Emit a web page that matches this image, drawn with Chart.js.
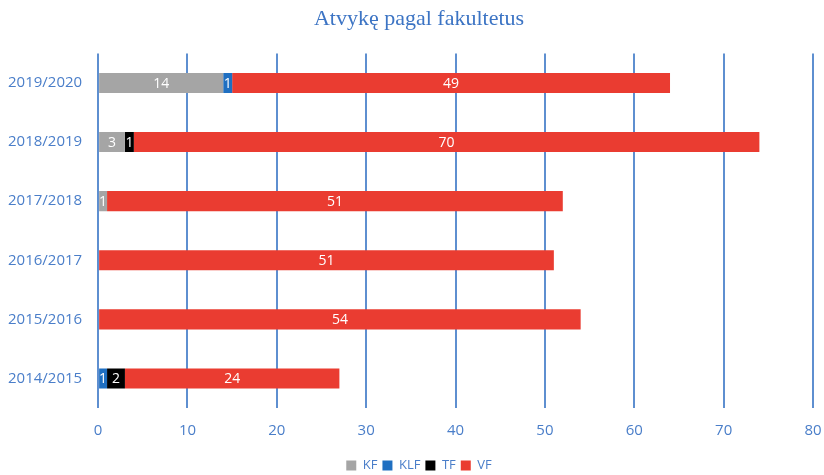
<!DOCTYPE html>
<html>
<head>
<meta charset="utf-8">
<script src="https://cdn.jsdelivr.net/npm/chart.js@4"></script>
<style>
html,body{margin:0;padding:0;background:#fff;}
#wrap{width:824px;height:475px;position:relative;}
</style>
</head>
<body>
<div id="wrap"><canvas id="c" width="824" height="475"></canvas></div>
<script>
const categories = ["2019/2020","2018/2019","2017/2018","2016/2017","2015/2016","2014/2015"];
const KF  = [14, 3, 1, 0, 0, 0];
const KLF = [1, 0, 0, 0, 0, 1];
const TF  = [0, 1, 0, 0, 0, 2];
const VF  = [49, 70, 51, 51, 54, 24];
const xTicks = [0,10,20,30,40,50,60,70,80];

const axisBlue = '#4a7ec9';
const gridBlue = '#5e8fd0';

const labelPlugin = {
  id: 'barLabels',
  afterDatasetsDraw(chart) {
    const ctx = chart.ctx;
    ctx.save();
    ctx.font = '14px "Open Sans", sans-serif';
    ctx.fillStyle = '#ffffff';
    ctx.textAlign = 'center';
    ctx.textBaseline = 'middle';
    chart.data.datasets.forEach((ds, di) => {
      const meta = chart.getDatasetMeta(di);
      meta.data.forEach((bar, i) => {
        const v = ds.data[i];
        if (!v) return;
        const cx = (bar.x + bar.base) / 2;
        ctx.fillText(String(v), cx, bar.y + 1);
      });
    });
    ctx.restore();
  }
};

new Chart(document.getElementById('c'), {
  type: 'bar',
  data: {
    labels: categories,
    datasets: [
      {label:'KF', data: KF, backgroundColor:'#a5a5a5'},
      {label:'KLF', data: KLF, backgroundColor:'#1f6fc1'},
      {label:'TF', data: TF, backgroundColor:'#000000'},
      {label:'VF', data: VF, backgroundColor:'#ea3c31'}
    ]
  },
  options: {
    indexAxis: 'y',
    responsive: false,
    animation: false,
    devicePixelRatio: 1,
    layout: {padding: {left: -8, right: -22, top: 0, bottom: -7}},
    datasets: {bar: {categoryPercentage: 1, barPercentage: 0.34}},
    plugins: {
      title: {
        display: true,
        text: 'Atvykę pagal fakultetus',
        color: '#3c74c4',
        font: {family: '"Liberation Serif", serif', size: 22, weight: 'normal'},
        padding: {top: 6, bottom: 21}
      },
      legend: {
        position: 'bottom',
        labels: {
          boxWidth: 10, boxHeight: 10, color: axisBlue,
          font: {family: '"Open Sans", sans-serif', size: 13},
          padding: 5
        }
      },
      tooltip: {enabled: false}
    },
    scales: {
      x: {
        stacked: true,
        min: 0, max: 80,
        afterBuildTicks(axis) { axis.ticks = xTicks.map(v => ({value: v})); },
        afterFit(scale) { scale.paddingRight = 11; },
        grid: {color: gridBlue, lineWidth: 2, drawTicks: false},
        border: {display: false},
        ticks: {color: axisBlue, font: {family: '"Open Sans", sans-serif', size: 15}, padding: 14}
      },
      y: {
        stacked: true,
        grid: {display: false, drawTicks: false},
        border: {display: false},
        ticks: {color: axisBlue, font: {family: '"Open Sans", sans-serif', size: 15}, padding: 16}
      }
    }
  },
  plugins: [labelPlugin]
});
</script>
</body>
</html>
